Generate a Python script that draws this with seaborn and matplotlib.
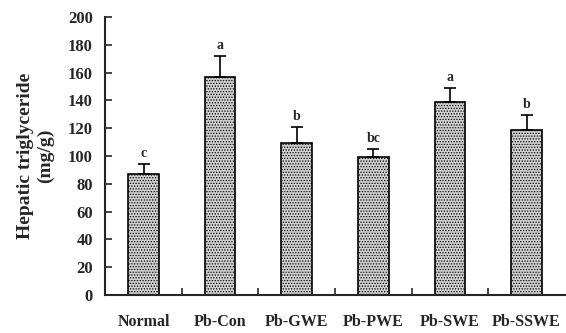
import matplotlib
matplotlib.use("Agg")
import matplotlib.pyplot as plt
import seaborn as sns
import pandas as pd

groups = ["Normal", "Pb-Con", "Pb-GWE", "Pb-PWE", "Pb-SWE", "Pb-SSWE"]
means = [87, 157, 109.5, 99.5, 139, 118.5]
errors = [7, 15, 11.5, 5.5, 10, 11]
letters = ["c", "a", "b", "bc", "a", "b"]

sns.set_style("ticks")
plt.rcParams["font.family"] = ["Liberation Serif", "DejaVu Serif"]
plt.rcParams["font.weight"] = "bold"
plt.rcParams["hatch.color"] = "#555555"
plt.rcParams["hatch.linewidth"] = 0.6

df = pd.DataFrame({"group": groups, "mean": means})

fig = plt.figure(figsize=(5.66, 3.33), dpi=100)
ax = fig.add_axes([0.186, 0.114, 0.812, 0.835])

sns.barplot(data=df, x="group", y="mean", color="#d0d0d0", width=0.4,
            edgecolor="black", linewidth=1.2, ax=ax, errorbar=None)
for p in ax.patches:
    p.set_hatch("......")

ax.errorbar(range(len(groups)), means, yerr=[[0] * len(groups), errors],
            fmt="none", ecolor="black", elinewidth=1.2, capsize=4, capthick=1.2)

for i, (m, e, t) in enumerate(zip(means, errors, letters)):
    ax.text(i, m + e + 3, t, ha="center", va="bottom", fontsize=10, fontweight="bold")

ax.set_ylim(0, 200)
ax.set_xlim(-0.5, 5.5)
ax.set_yticks(range(0, 201, 20))
ax.set_xticks([x + 0.5 for x in range(5)], minor=True)
ax.set_xticks(range(len(groups)))
ax.set_xticklabels(groups, fontsize=11.5, fontweight="bold")
ax.tick_params(axis="x", which="major", length=0, pad=14)
ax.tick_params(axis="x", which="minor", direction="in", length=5, width=1.2)
ax.tick_params(axis="y", direction="in", length=5, width=1.2, labelsize=12, pad=9)
for lab in ax.get_yticklabels():
    lab.set_fontweight("bold")

ax.set_xlabel("")
ax.set_ylabel("Hepatic triglyceride\n(mg/g)", fontsize=14, fontweight="bold", labelpad=10)

sns.despine(ax=ax)
ax.spines["left"].set_linewidth(1.5)
ax.spines["bottom"].set_linewidth(1.5)

fig.savefig("out.png", dpi=100)
